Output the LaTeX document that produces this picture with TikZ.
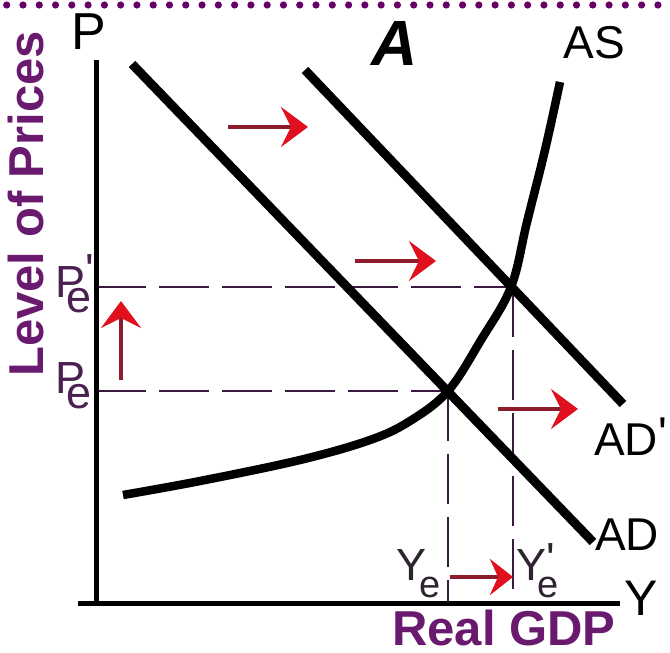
\documentclass[tikz,border=0pt]{standalone}
\usepackage{fontspec}
\setmainfont{Liberation Sans}
\usetikzlibrary{arrows.meta}
\definecolor{dotpurple}{HTML}{660066}
\definecolor{labpurple}{HTML}{6A1A6E}
\definecolor{darkpurple}{HTML}{4A2050}
\definecolor{dashcol}{HTML}{3A1A40}
\definecolor{shaftred}{HTML}{8C1C2C}
\definecolor{headred}{HTML}{E0101E}
\definecolor{yelab}{HTML}{2E2430}
\tikzset{
  curve/.style={line width=9pt, black},
  axisline/.style={line width=5pt, black},
  guide/.style={dashcol, line width=2.5pt, dash pattern=on 50pt off 13pt},
  shiftarrow/.style={shaftred, line width=4pt,
     -{Stealth[length=27pt,width=40pt,inset=10pt,color=headred]}},
  lab/.style={inner sep=0pt, font=\fontsize{46}{46}\selectfont},
  biglab/.style={inner sep=0pt, labpurple, font=\fontsize{49}{49}\selectfont\bfseries},
  sublab/.style={inner sep=0pt, font=\fontsize{45}{45}\selectfont}
}
\begin{document}
\begin{tikzpicture}[x=1pt,y=-1pt]
\useasboundingbox (0,0) rectangle (670,653);
% top dotted rule
\foreach \i in {0,...,40} \fill[dotpurple] (6.7+16.28*\i,5) circle (3.6pt);
% key points
\coordinate (E1) at (448,391);
\coordinate (E2) at (512,287);
\coordinate (O) at (96,603);
\coordinate (ytop) at (96,60);
\coordinate (xleft) at (78,603);
\coordinate (xright) at (620,603);
\coordinate (Pe1) at (96,287);
\coordinate (Pe0) at (96,391);
\coordinate (Ye0) at (448,603);
\coordinate (Ye1) at (513,603);
\coordinate (E2v) at (513,287);
% dashed guides
\draw[guide] (Pe1) -- (E2);
\draw[guide] (Pe0) -- (E1);
\draw[guide] (E1) -- (Ye0);
\draw[guide] (E2v) -- (Ye1);
% AD and AD'
\coordinate (ADs) at (132,64);
\coordinate (ADe) at (593,542);
\coordinate (AD2s) at (305,70);
\coordinate (AD2e) at (623,404);
\draw[curve] (ADs) -- (ADe);
\draw[curve] (AD2s) -- (AD2e);
% AS curve
\draw[line width=8.5pt, black] plot[smooth, tension=0.6] coordinates {
 (123,495) (200,481) (300,460) (370,440) (410,421) (448,391)
 (481,340) (511,287) (527,222) (545,150) (560,82)};
% axes
\draw[axisline] (ytop) -- (O);
\draw[axisline] (xleft) -- (xright);
% red shift arrows
\coordinate (a1s) at (228,127); \coordinate (a1e) at (308,127);
\coordinate (a2s) at (355,261); \coordinate (a2e) at (436,261);
\coordinate (a3s) at (498,409); \coordinate (a3e) at (578,409);
\coordinate (a4s) at (121,380); \coordinate (a4e) at (121,301);
\coordinate (a5s) at (450,577); \coordinate (a5e) at (513,577);
\draw[shiftarrow] (a1s) -- (a1e);
\draw[shiftarrow] (a2s) -- (a2e);
\draw[shiftarrow] (a3s) -- (a3e);
\draw[shiftarrow] (a4s) -- (a4e);
\draw[shiftarrow, -{Stealth[length=23pt,width=36pt,inset=8pt,color=headred]}] (a5s) -- (a5e);
% labels
\node[lab, font=\fontsize{52}{52}\selectfont] (Plab) at (89,32) {P};
\node[inner sep=0pt, font=\fontsize{64}{64}\selectfont\bfseries\itshape] (Alab) at (395,43) {A};
\node[lab] (ASlab) at (594,43) {AS};
\node[lab, anchor=base west] (AD2lab) at (594,455) {AD\raisebox{6pt}{\textquotesingle}};
\node[lab, anchor=base west] (ADlab) at (595,550) {AD};
\node[lab, font=\fontsize{50}{50}\selectfont] (Ylab) at (641,598) {Y};
\node[biglab] (GDP) at (504,628) {Real GDP};
\node[biglab, rotate=90, anchor=base west] (LP) at (43,377) {Level of Prices};
\node[sublab, darkpurple, anchor=base west] (Pe1lab) at (55,297)
  {P\rlap{\raisebox{12pt}{\textquotesingle}}\kern-19pt\raisebox{-15pt}{e}};
\node[sublab, darkpurple, anchor=base west] (Pe0lab) at (55,393)
  {P\kern-19pt\raisebox{-15pt}{e}};
\node[sublab, yelab, anchor=base west] (Ye0lab) at (396,580)
  {Y\kern-7pt\raisebox{-17pt}{\fontsize{38}{38}\selectfont e}};
\node[sublab, yelab, anchor=base west] (Ye1lab) at (516,580)
  {Y\rlap{\raisebox{6pt}{\textquotesingle}}\kern-9pt\raisebox{-17pt}{\fontsize{38}{38}\selectfont e}};
\end{tikzpicture}
\end{document}
